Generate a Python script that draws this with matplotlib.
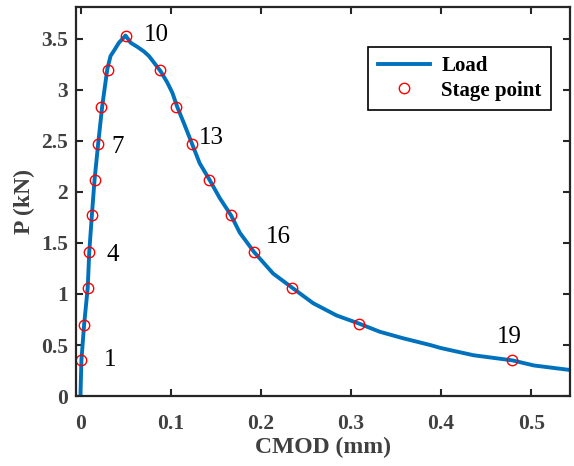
import numpy as np
import matplotlib.pyplot as plt

plt.rcParams['font.family'] = ['Liberation Serif', 'DejaVu Serif']

# load curve
cmod = [0.000, 0.001, 0.004, 0.008, 0.0097, 0.0126, 0.0156, 0.0197, 0.0241, 0.0297,
        0.0333, 0.037, 0.0426, 0.050, 0.0556, 0.063, 0.0703, 0.0759, 0.0833, 0.0889,
        0.0963, 0.1019, 0.1074, 0.1148, 0.1233, 0.1322, 0.143, 0.1544, 0.167, 0.1767,
        0.1926, 0.2137, 0.235, 0.258, 0.284, 0.309, 0.332, 0.358, 0.388, 0.400,
        0.436, 0.479, 0.503, 0.548]
load = [0.02, 0.35, 0.70, 1.06, 1.41, 1.77, 2.12, 2.48, 2.84, 3.20,
        3.33, 3.38, 3.46, 3.53, 3.46, 3.42, 3.375, 3.33, 3.245, 3.18,
        3.07, 2.97, 2.83, 2.67, 2.48, 2.28, 2.12, 1.94, 1.77, 1.60,
        1.41, 1.20, 1.06, 0.91, 0.79, 0.71, 0.63, 0.566, 0.50, 0.47,
        0.40, 0.35, 0.30, 0.25]

# stage points
stage_x = [0.001, 0.004, 0.008, 0.0097, 0.0126, 0.0156, 0.019, 0.023, 0.030, 0.0507,
           0.0878, 0.106, 0.1237, 0.143, 0.167, 0.1926, 0.235, 0.309, 0.4786]
stage_y = [0.35, 0.70, 1.06, 1.41, 1.77, 2.12, 2.47, 2.83, 3.19, 3.53,
           3.19, 2.83, 2.47, 2.12, 1.77, 1.41, 1.06, 0.71, 0.35]

# stage number labels
lab_text = ['1', '4', '7', '10', '13', '16', '19']
lab_x = [0.0256, 0.029, 0.0344, 0.070, 0.1315, 0.2056, 0.462]
lab_y = [0.35, 1.38, 2.44, 3.54, 2.53, 1.56, 0.58]

yticks = [0, 0.5, 1, 1.5, 2, 2.5, 3, 3.5]
ytick_labels = ['0', '0.5', '1', '1.5', '2', '2.5', '3', '3.5']
xticks = [0, 0.1, 0.2, 0.3, 0.4, 0.5]
xtick_labels = ['0', '0.1', '0.2', '0.3', '0.4', '0.5']

fig = plt.figure(figsize=(5.74, 4.66), dpi=100)
ax = fig.add_axes([0.1324, 0.150, 0.8606, 0.835])

ax.plot(cmod, load, color='#0072BD', lw=2.8, label='Load', solid_joinstyle='round')
ax.plot(stage_x, stage_y, 'o', mfc='none', mec='red', ms=7.5, mew=1.0,
        label='Stage point')

for t, x, y in zip(lab_text, lab_x, lab_y):
    ax.text(x, y, t, fontsize=18, color='black', va='center', ha='left')

ax.set_xlim(-0.005, 0.543)
ax.set_ylim(0, 3.81)
ax.set_xticks(xticks)
ax.set_xticklabels(xtick_labels)
ax.set_yticks(yticks)
ax.set_yticklabels(ytick_labels)
ax.tick_params(direction='in', top=True, right=True, length=5, width=1.5,
               colors='#262626', labelsize=15.5, labelcolor='#404040')
ax.tick_params(axis='y', pad=6)
ax.tick_params(axis='x', pad=13)
for lbl in ax.get_xticklabels() + ax.get_yticklabels():
    lbl.set_fontweight('bold')
for s in ax.spines.values():
    s.set_linewidth(1.6)
    s.set_color('#262626')

ax.set_xlabel('CMOD (mm)', fontsize=17, fontweight='bold', color='#404040', labelpad=2)
ax.set_ylabel('P (kN)', fontsize=17, fontweight='bold', color='#404040', labelpad=4)

leg = ax.legend(loc='upper right', bbox_to_anchor=(0.9615, 0.897), fancybox=False,
                edgecolor='black', framealpha=1, prop={'weight': 'bold', 'size': 15},
                handlelength=2.5, handletextpad=0.55, borderpad=0.45, labelspacing=0.2,
                borderaxespad=0)
leg.get_frame().set_linewidth(1.2)

fig.savefig('out.png', dpi=100)
